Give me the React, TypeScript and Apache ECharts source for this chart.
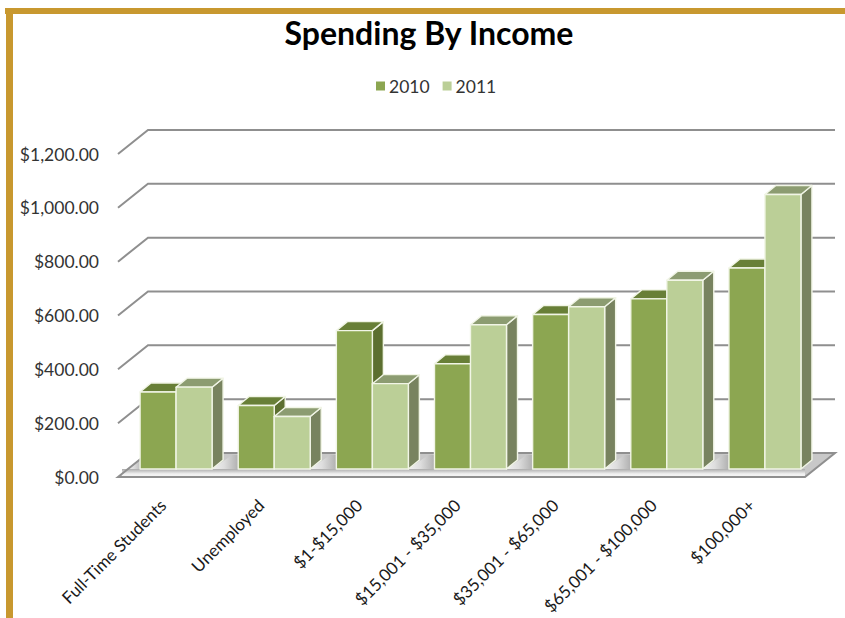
import React, { useEffect, useRef } from "react";
import * as echarts from "echarts";

const categories = [
  "Full-Time Students",
  "Unemployed",
  "$1-$15,000",
  "$15,001 - $35,000",
  "$35,001 - $65,000",
  "$65,001 - $100,000",
  "$100,000+",
];
const spending2010 = [286, 236, 514, 391, 574, 632, 747];
const spending2011 = [304, 195, 317, 536, 603, 701, 1020];
const axisTicks = [0, 200, 400, 600, 800, 1000, 1200];

const FONT = "Lato, Carlito, sans-serif";
const WALL = { dx: 30, dy: 24 };
const BAR_PLANE = { dx: 9, dy: 8 };
const BAR_DEPTH = { dx: 11, dy: 9 };
const BAR_WIDTH = 36;

const palette2010 = { front: "#8CA651", top: "#687F37", side: "#5C6F30" };
const palette2011 = { front: "#BBCF97", top: "#8C9C71", side: "#78835F" };

const money = (v: number) =>
  "$" + v.toFixed(2).replace(/\B(?=(\d{3})+(?!\d))/g, ",");

// One extruded column: front face, top and right side, offset into the floor.
const barRenderer =
  (palette: typeof palette2010, slot: number) => (_p: any, api: any) => {
    const cat = api.value(0);
    const [cx, yTop] = api.coord([cat, api.value(1)]);
    const [, yBase] = api.coord([cat, 0]);
    const l = cx + BAR_PLANE.dx + (slot === 0 ? -BAR_WIDTH : 0);
    const r = l + BAR_WIDTH;
    const t = yTop - BAR_PLANE.dy;
    const b = yBase - BAR_PLANE.dy;
    const { dx, dy } = BAR_DEPTH;
    const edge = { stroke: "#F1F5E6", lineWidth: 1.4, lineJoin: "round" };
    const face = (points: number[][], fill: string) => ({
      type: "polygon",
      shape: { points },
      style: { fill, ...edge },
    });
    return {
      type: "group",
      children: [
        face([[r, b], [r + dx, b - dy], [r + dx, t - dy], [r, t]], palette.side),
        face([[l, t], [l + dx, t - dy], [r + dx, t - dy], [r, t]], palette.top),
        face([[l, b], [r, b], [r, t], [l, t]], palette.front),
      ],
    };
  };

// Back wall gridlines, their return along the side wall, and the shaded floor.
const wallRenderer = (params: any, api: any) => {
  const value = api.value(1);
  const y = api.coord([0, value])[1];
  const x0 = params.coordSys.x;
  const x1 = x0 + params.coordSys.width;
  const rule = { stroke: "#8F8F8F", lineWidth: 2 };
  const children: any[] = [];
  if (value === 0) {
    const band = api.size([1, 0])[0];
    const sheen = new echarts.graphic.LinearGradient(0, 0, 1, 0, [
      { offset: 0, color: "#F2F2F2" },
      { offset: 0.35, color: "#DEDEDE" },
      { offset: 1, color: "#969696" },
    ]);
    children.push({
      type: "polygon",
      shape: {
        points: [
          [x0, y],
          [x0 + WALL.dx, y - WALL.dy],
          [x1 + WALL.dx, y - WALL.dy],
          [x1, y],
        ],
      },
      style: { fill: "#C8C8C8" },
    });
    categories.forEach((_c, k) => {
      const start = Math.max(x0 + 8, x0 + k * band - 4);
      const end = x0 + k * band + 22;
      children.push({
        type: "polygon",
        shape: {
          points: [
            [start, y - 8],
            [start + 20, y - WALL.dy + 2],
            [end + 8, y - WALL.dy + 2],
            [end, y - 8],
          ],
        },
        style: { fill: sheen },
      });
    });
    children.push({
      type: "rect",
      shape: { x: x0 + 4, y: y - 8, width: x1 - x0 - 4, height: 7 },
      style: {
        fill: new echarts.graphic.LinearGradient(0, 0, 0, 1, [
          { offset: 0, color: "#ABABAB" },
          { offset: 0.7, color: "#F0F0F0" },
          { offset: 1, color: "#F4F4F4" },
        ]),
      },
    });
    children.push({
      type: "polygon",
      shape: {
        points: [
          [x0, y],
          [x0 + WALL.dx, y - WALL.dy],
          [x1 + WALL.dx, y - WALL.dy],
          [x1, y],
        ],
      },
      style: { fill: "none", ...rule },
    });
  } else {
    children.push({
      type: "polyline",
      shape: {
        points: [
          [x0, y],
          [x0 + WALL.dx, y - WALL.dy],
          [x1 + WALL.dx, y - WALL.dy],
        ],
      },
      style: { fill: "none", ...rule },
    });
  }
  return { type: "group", children };
};

export default function App() {
  const ref = useRef<HTMLDivElement>(null);

  useEffect(() => {
    const chart = echarts.init(ref.current!, undefined, { renderer: "svg" });
    chart.setOption({
      animation: false,
      backgroundColor: "#FFFFFF",
      textStyle: { fontFamily: FONT },
      title: {
        text: "Spending By Income",
        left: 424,
        top: 11,
        textAlign: "center",
        textStyle: {
          fontFamily: FONT,
          fontSize: 32,
          fontWeight: "bold",
          color: "#000000",
        },
      },
      legend: {
        left: 371,
        top: 72,
        icon: "rect",
        itemWidth: 9,
        itemHeight: 9,
        itemGap: 13,
        data: ["2010", "2011"],
        textStyle: { fontFamily: FONT, fontSize: 17.5, color: "#333333", padding: [0, 0, 0, -1] },
      },
      grid: {
        left: 118,
        right: 40,
        top: 154,
        bottom: 141,
        containLabel: false,
        outerBoundsMode: "none",
      },
      xAxis: {
        type: "category",
        data: categories,
        axisLine: { show: false },
        axisTick: { show: false },
        axisLabel: {
          interval: 0,
          rotate: 45,
          margin: 21,
          padding: [0, 6, 0, 0],
          fontFamily: FONT,
          fontSize: 17,
          color: "#1A1A1A",
        },
      },
      yAxis: {
        type: "value",
        min: 0,
        max: 1200,
        interval: 200,
        axisLine: { show: false },
        axisTick: { show: false },
        splitLine: { show: false },
        axisLabel: {
          margin: 19,
          fontFamily: FONT,
          fontSize: 17.5,
          color: "#333333",
          formatter: money,
        },
      },
      graphic: [
        { type: "rect", shape: { x: 5, y: 8, width: 840, height: 6 }, style: { fill: "#C8982F" }, z: 20 },
        { type: "rect", shape: { x: 6, y: 8, width: 7, height: 610 }, style: { fill: "#C8982F" }, z: 20 },
      ],
      series: [
        {
          name: "walls",
          type: "custom",
          renderItem: wallRenderer,
          encode: { x: 0, y: 1 },
          data: axisTicks.map((t) => [0, t]),
          silent: true,
          z: 1,
        },
        {
          name: "2010",
          type: "custom",
          renderItem: barRenderer(palette2010, 0),
          encode: { x: 0, y: 1 },
          itemStyle: { color: palette2010.front },
          data: spending2010.map((v, i) => [i, v]),
          z: 2,
        },
        {
          name: "2011",
          type: "custom",
          renderItem: barRenderer(palette2011, 1),
          encode: { x: 0, y: 1 },
          itemStyle: { color: palette2011.front },
          data: spending2011.map((v, i) => [i, v]),
          z: 3,
        },
      ],
    });
    return () => chart.dispose();
  }, []);

  return (
    <div
      ref={ref}
      style={{ position: "absolute", left: 0, top: 0, width: 845, height: 618 }}
    />
  );
}
